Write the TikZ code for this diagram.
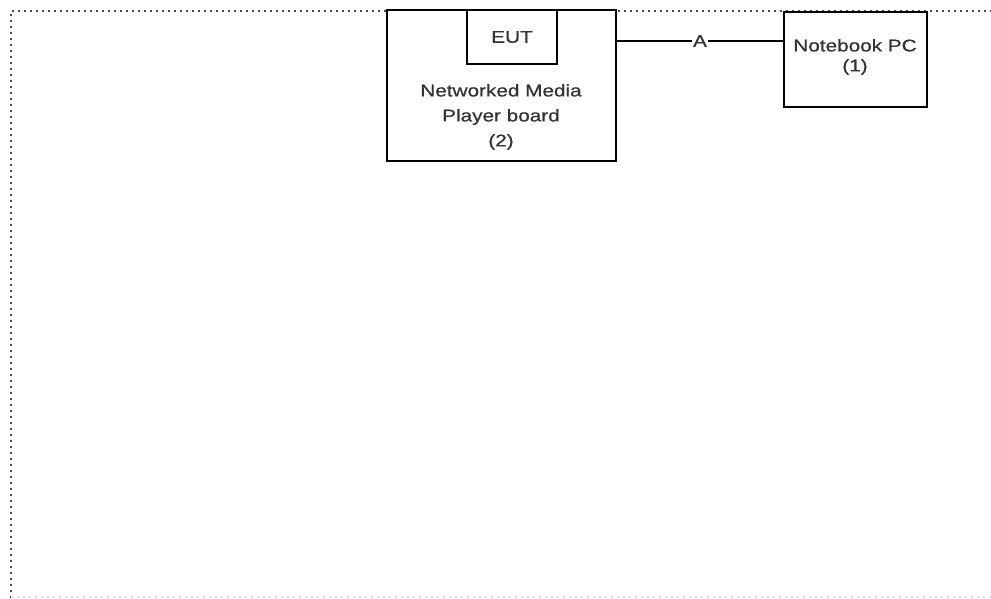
\documentclass[tikz,border=0pt]{standalone}
\usepackage{fontspec}
\setmainfont[FakeStretch=1.22,FakeBold=0.6]{Liberation Sans}
\begin{document}
\begin{tikzpicture}[x=1pt,y=-1pt,
  box/.style={draw=black,line width=2.4pt,fill=white,inner sep=0pt},
  lbl/.style={font=\fontsize{17}{25}\selectfont,text=black!80,align=center,inner sep=0pt},
  frame/.style={draw=black!70,line width=2.4pt,dash pattern=on 2.2pt off 3.8pt}]
\useasboundingbox (0,0) rectangle (991,598);
\coordinate (fbl) at (11,598);
\coordinate (ftl) at (11,11);
\coordinate (ftr) at (991,11);
\coordinate (fbr) at (991,597);
\draw[frame] (fbl) -- (ftl) -- (ftr);
\draw[frame,draw=black!12] (11,597) -- (fbr);
\node[box,minimum width=229pt,minimum height=151pt] (nmp) at (501.5,85.5) {};
\node[box,minimum width=90pt,minimum height=54pt] (eut) at (512,37) {};
\node[lbl] at (eut.center) {EUT};
\node[lbl] (nmpt) at (501,117) {Networked Media\\Player board\\(2)};
\node[box,minimum width=143pt,minimum height=95pt] (pc) at (855.5,59.5) {};
\node[lbl,font=\fontsize{17}{20}\selectfont] (pct) at (855,57) {Notebook PC\\(1)};
\draw[line width=1.7pt] (nmp.east |- 0,41) -- node[lbl,fill=white,inner sep=1pt] (a) {A} (pc.west |- 0,41);
\end{tikzpicture}
\end{document}
